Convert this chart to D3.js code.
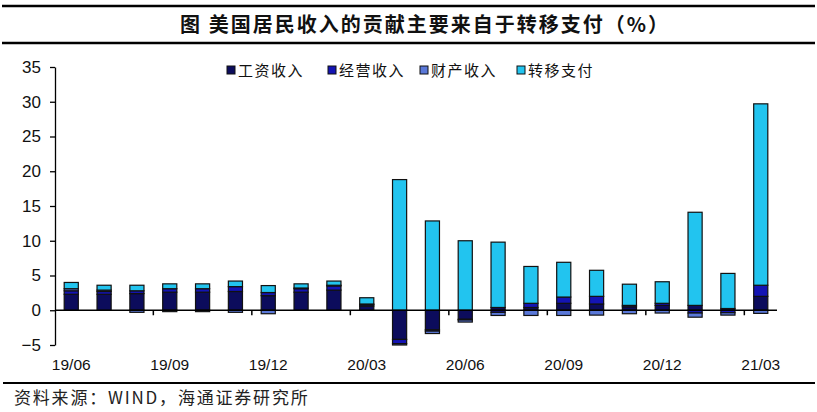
<!DOCTYPE html>
<html>
<head>
<meta charset="utf-8">
<script src="https://cdn.jsdelivr.net/npm/d3@7"></script>
<style>
  body { margin: 0; background: #fff; }
  svg { display: block; }
</style>
</head>
<body>
<script>
// months on the x axis
var months = ["19/06","19/07","19/08","19/09","19/10","19/11","19/12","20/01","20/02","20/03","20/04",
  "20/05","20/06","20/07","20/08","20/09","20/10","20/11","20/12","21/01","21/02","21/03"];
// contribution of each income part (%)
var wage     = [2.3, 2.3, 2.4, 2.6, 2.6, 2.7, 2.1, 2.6, 2.9, 0.6, -4.2, -2.8, -1.3, 0.4, 0.4, 1.0, 0.9, 0.5, 0.7, 0.7, 0.25, 2.0];
var business = [0.5, 0.4, 0.4, 0.5, 0.5, 0.7, 0.45, 0.5, 0.6, 0.2, -0.6, -0.2, -0.1, -0.3, 0.6, 0.9, 1.1, 0.2, 0.3, -0.4, -0.35, 1.6];
var property = [0.3, 0.2, -0.3, -0.2, -0.2, -0.3, -0.5, 0.1, 0.1, 0.1, -0.2, -0.35, -0.3, -0.45, -0.75, -0.75, -0.7, -0.5, -0.4, -0.6, -0.35, -0.45];
var transfer = [0.9, 0.7, 0.8, 0.7, 0.7, 0.8, 1.0, 0.6, 0.6, 0.9, 18.8, 12.85, 10.0, 9.4, 5.3, 5.0, 3.75, 3.05, 3.1, 13.4, 5.05, 26.1];
var seriesNames = ["工资收入", "经营收入", "财产收入", "转移支付"];
var yTicks = [-5, 0, 5, 10, 15, 20, 25, 30, 35];
var xLabelMonths = ["19/06","19/09","19/12","20/03","20/06","20/09","20/12","21/03"];

var colors = ["#0c0c5c", "#1414b4", "#5a78d8", "#22c4ef"];

var svgWidth = 817, svgHeight = 412;
var svg = d3.select("body").append("svg")
  .attr("width", svgWidth)
  .attr("height", svgHeight);

// title block
svg.append("line").attr("x1", 2).attr("x2", 815).attr("y1", 6).attr("y2", 6)
  .attr("stroke", "#000").attr("stroke-width", 2.5);
svg.append("line").attr("x1", 2).attr("x2", 815).attr("y1", 43).attr("y2", 43)
  .attr("stroke", "#000").attr("stroke-width", 2.5);
svg.append("text")
  .attr("x", 425).attr("y", 32)
  .attr("text-anchor", "middle")
  .attr("font-family", "'Noto Sans CJK SC', sans-serif")
  .attr("font-weight", "bold")
  .attr("font-size", 20)
  .attr("letter-spacing", 2)
  .attr("fill", "#111")
  .text("图  美国居民收入的贡献主要来自于转移支付（%）");

// data table
var data = months.map(function(m, i) {
  return { month: m, "工资收入": wage[i], "经营收入": business[i], "财产收入": property[i], "转移支付": transfer[i] };
});

var stack = d3.stack().keys(seriesNames).offset(d3.stackOffsetDiverging);
var layers = stack(data);

var x = d3.scaleBand().domain(months).range([55, 777]).paddingInner(0.57).paddingOuter(0.28);
var y = d3.scaleLinear().domain([-5, 35]).range([345, 67]);

// y axis
var leftAxis = d3.axisLeft(y).tickValues(yTicks).tickSize(5).tickSizeOuter(0);
var gy = svg.append("g").attr("transform", "translate(55,0)").call(leftAxis);
gy.select(".domain").attr("stroke", "#000").attr("stroke-width", 1.3);
gy.selectAll(".tick line").attr("stroke", "#000").attr("stroke-width", 1.3);
gy.selectAll(".tick text")
  .attr("x", -14)
  .attr("font-family", "'Liberation Sans', Arial, sans-serif")
  .attr("font-size", 17)
  .attr("fill", "#111");

// bars
svg.append("g").selectAll("g")
  .data(layers)
  .enter().append("g")
  .attr("fill", function(d, i) { return colors[i]; })
  .selectAll("rect")
  .data(function(d) { return d; })
  .enter().append("rect")
  .attr("x", function(d) { return x(d.data.month); })
  .attr("width", x.bandwidth())
  .attr("y", function(d) { return y(Math.max(d[0], d[1])); })
  .attr("height", function(d) { return Math.abs(y(d[0]) - y(d[1])); })
  .attr("stroke", "#111")
  .attr("stroke-width", 1.2);

// x axis line at zero
var gap = (x.step() - x.bandwidth()) / 2;
svg.append("line")
  .attr("x1", 55).attr("x2", 777)
  .attr("y1", y(0)).attr("y2", y(0))
  .attr("stroke", "#000").attr("stroke-width", 1.5);

// ticks every 3 months at band boundaries
var tickIdx = d3.range(3, months.length, 3);
svg.append("g").selectAll("line")
  .data(tickIdx)
  .enter().append("line")
  .attr("x1", function(i) { return x(months[i]) - gap; })
  .attr("x2", function(i) { return x(months[i]) - gap; })
  .attr("y1", y(0)).attr("y2", y(0) + 5)
  .attr("stroke", "#000").attr("stroke-width", 1.5);

// month labels under their bars
svg.append("g").selectAll("text")
  .data(xLabelMonths)
  .enter().append("text")
  .attr("x", function(m) { return x(m) + x.bandwidth() / 2; })
  .attr("y", 370)
  .attr("text-anchor", "middle")
  .attr("font-family", "'Liberation Sans', Arial, sans-serif")
  .attr("font-size", 15.5)
  .attr("fill", "#111")
  .text(function(m) { return m; });

// legend
var legendX = [227, 328, 420, 517];
var legend = svg.append("g").selectAll("g")
  .data(seriesNames)
  .enter().append("g")
  .attr("transform", function(d, i) { return "translate(" + legendX[i] + ",66)"; });
legend.append("rect")
  .attr("width", 8).attr("height", 8)
  .attr("fill", function(d, i) { return colors[i]; })
  .attr("stroke", "#111").attr("stroke-width", 1);
legend.append("text")
  .attr("x", 11).attr("y", 10)
  .attr("font-family", "'Noto Sans CJK SC', sans-serif")
  .attr("font-size", 15)
  .attr("letter-spacing", 1.5)
  .attr("fill", "#111")
  .text(function(d) { return d; });

// source
svg.append("line").attr("x1", 3).attr("x2", 815).attr("y1", 383).attr("y2", 383)
  .attr("stroke", "#000").attr("stroke-width", 2);
svg.append("text")
  .attr("x", 14).attr("y", 404)
  .attr("font-family", "'Noto Sans CJK SC', sans-serif")
  .attr("font-size", 17)
  .attr("letter-spacing", 1.8)
  .attr("fill", "#222")
  .text("资料来源：WIND，海通证券研究所");
</script>
</body>
</html>
